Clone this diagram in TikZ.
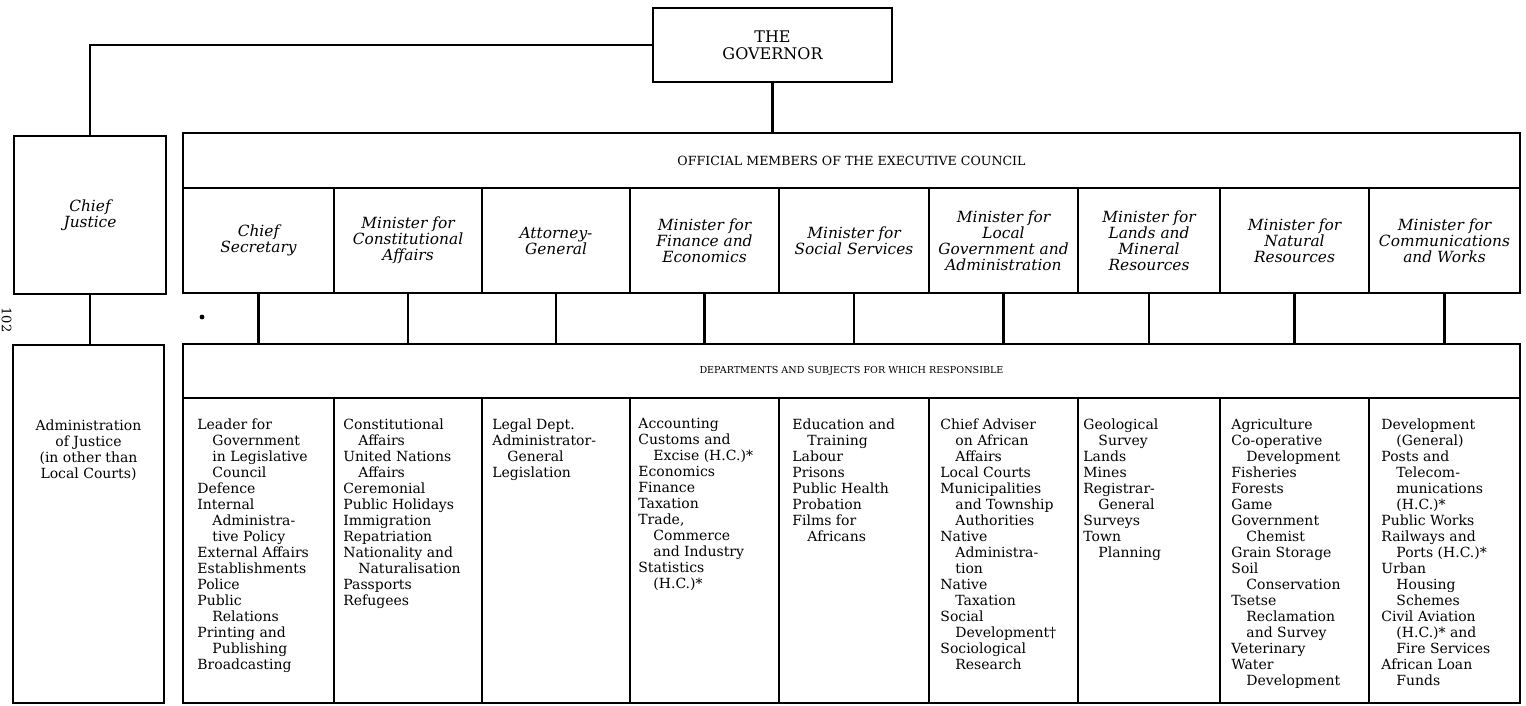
\documentclass[tikz,border=0pt]{standalone}
\usepackage{fontspec}
\setmainfont{DejaVu Serif}
\newcommand{\ind}{\hspace*{7.5pt}}

\begin{document}
\begin{tikzpicture}[x=0.5pt,y=-0.5pt]

\tikzstyle{outer box} = [draw, line width=1.2pt, inner sep=0pt]
\tikzstyle{minister} = [align=center, inner sep=0pt, minimum width=72pt, minimum height=52.5pt, font=\fontsize{7.7}{8}\selectfont\itshape]
\tikzstyle{dept list} = [anchor=north west, align=left, inner sep=0pt, font=\fontsize{7}{8}\selectfont]
\tikzstyle{sep line} = [line width=0.8pt]
\tikzstyle{link} = [line width=1.1pt]

\useasboundingbox[fill=white] (0,0) rectangle (1526,706);

% Governor
\node[outer box, minimum width=119.5pt, minimum height=37pt, align=center, font=\fontsize{8}{8.5}\selectfont] (gov) at (772.5,45) {THE\\GOVERNOR};

% Chief Justice and his department
\node[outer box, minimum width=76pt, minimum height=79pt, align=center, font=\fontsize{7.7}{8}\selectfont\itshape] (cj) at (90,215) {Chief\\Justice};
\node[outer box, minimum width=75.5pt, minimum height=179pt] (adm) at (88.5,524) {};
\node[dept list, anchor=north, align=center] (admtext) at (88.5,419) {Administration\\of Justice\\(in other than\\Local Courts)};

% Executive council
\node[outer box, minimum width=668.5pt, minimum height=80pt] (exec) at (851.5,213) {};
\node[font=\fontsize{6.3}{7}\selectfont] (offhead) at (851.5,161) {OFFICIAL MEMBERS OF THE EXECUTIVE COUNCIL};
\draw[sep line] (183,188) -- (1520,188);
\foreach \x in {334,482,630,779,929,1078,1220,1369}
  \draw[sep line] (\x,188) -- (\x,293);

\node[minister] (m1) at (258.5,240.5) {Chief\\Secretary};
\node[minister] (m2) at (408,240.5) {Minister for\\Constitutional\\Affairs};
\node[minister] (m3) at (556,240.5) {Attorney-\\General};
\node[minister] (m4) at (704.5,240.5) {Minister for\\Finance and\\Economics};
\node[minister] (m5) at (854,240.5) {Minister for\\Social Services};
\node[minister] (m6) at (1003.5,240.5) {Minister for\\Local\\Government and\\Administration};
\node[minister] (m7) at (1149,240.5) {Minister for\\Lands and\\Mineral\\Resources};
\node[minister] (m8) at (1294.5,240.5) {Minister for\\Natural\\Resources};
\node[minister] (m9) at (1444.5,240.5) {Minister for\\Communications\\and Works};

% Departments
\node[outer box, minimum width=668.5pt, minimum height=179.5pt] (dept) at (851.5,523.5) {};
\node[font=\fontsize{4.8}{5}\selectfont] (dhead) at (851.5,371) {DEPARTMENTS AND SUBJECTS FOR WHICH RESPONSIBLE};
\draw[sep line] (183,398) -- (1520,398);
\foreach \x in {334,482,630,779,929,1078,1220,1369}
  \draw[sep line] (\x,398) -- (\x,703);

\node[dept list] (d1) at (197,418) {Leader for\\\ind Government\\\ind in Legislative\\\ind Council\\Defence\\Internal\\\ind Administra-\\\ind tive Policy\\External Affairs\\Establishments\\Police\\Public\\\ind Relations\\Printing and\\\ind Publishing\\Broadcasting};
\node[dept list] (d2) at (343,418) {Constitutional\\\ind Affairs\\United Nations\\\ind Affairs\\Ceremonial\\Public Holidays\\Immigration\\Repatriation\\Nationality and\\\ind Naturalisation\\Passports\\Refugees};
\node[dept list] (d3) at (492,418) {Legal Dept.\\Administrator-\\\ind General\\Legislation};
\node[dept list] (d4) at (638,418) {Accounting\\Customs and\\\ind Excise (H.C.)*\\Economics\\Finance\\Taxation\\Trade,\\\ind Commerce\\\ind and Industry\\Statistics\\\ind (H.C.)*};
\node[dept list] (d5) at (792,418) {Education and\\\ind Training\\Labour\\Prisons\\Public Health\\Probation\\Films for\\\ind Africans};
\node[dept list] (d6) at (940,418) {Chief Adviser\\\ind on African\\\ind Affairs\\Local Courts\\Municipalities\\\ind and Township\\\ind Authorities\\Native\\\ind Administra-\\\ind tion\\Native\\\ind Taxation\\Social\\\ind Development†\\Sociological\\\ind Research};
\node[dept list] (d7) at (1083,418) {Geological\\\ind Survey\\Lands\\Mines\\Registrar-\\\ind General\\Surveys\\Town\\\ind Planning};
\node[dept list] (d8) at (1231,418) {Agriculture\\Co-operative\\\ind Development\\Fisheries\\Forests\\Game\\Government\\\ind Chemist\\Grain Storage\\Soil\\\ind Conservation\\Tsetse\\\ind Reclamation\\\ind and Survey\\Veterinary\\Water\\\ind Development};
\node[dept list] (d9) at (1381,418) {Development\\\ind (General)\\Posts and\\\ind Telecom-\\\ind munications\\\ind (H.C.)*\\Public Works\\Railways and\\\ind Ports (H.C.)*\\Urban\\\ind Housing\\\ind Schemes\\Civil Aviation\\\ind (H.C.)* and\\\ind Fire Services\\African Loan\\\ind Funds};

% connections
\draw[link] (gov.west) -| (cj.north);
\draw[link] (gov.south) -- (gov.south |- exec.north);
\draw[link] (cj.south) -- (cj.south |- adm.north);
\foreach \n in {1,...,9}
  \draw[link] (m\n.south) -- (m\n.south |- dept.north);

% page number and speck
\node[rotate=-90, inner sep=0pt, font=\fontsize{6.5}{6.5}\selectfont] (pageno) at (6.5,320) {102};
\fill (202,317) circle (1.2pt);

\end{tikzpicture}
\end{document}
